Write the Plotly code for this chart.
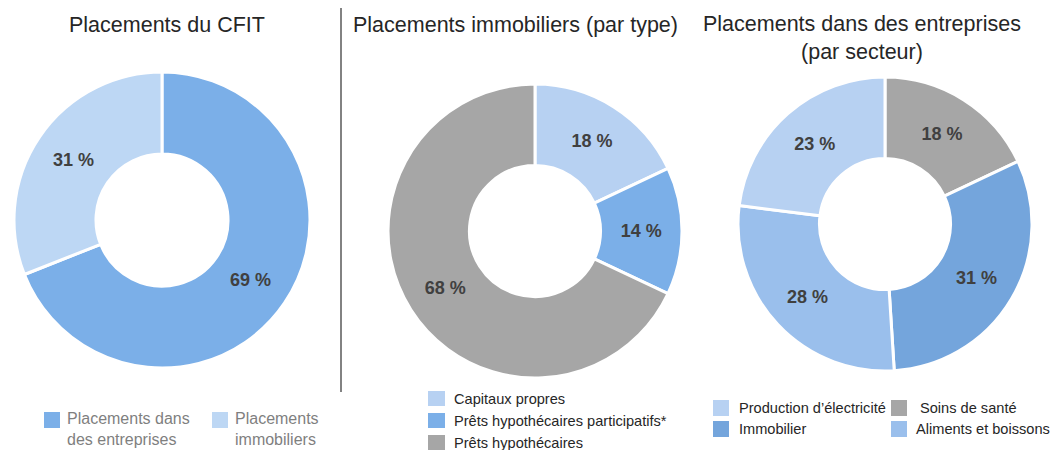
import plotly.graph_objects as go

W, H = 1051, 450

# ---- data ----
titles = ["Placements du CFIT", "Placements immobiliers (par type)",
          "Placements dans des entreprises<br>(par secteur)"]

cfit_labels = ["Placements dans des entreprises", "Placements immobiliers"]
cfit_values = [69, 31]

immo_labels = ["Capitaux propres", "Prêts hypothécaires participatifs*", "Prêts hypothécaires"]
immo_values = [18, 14, 68]

sect_labels = ["Soins de santé", "Immobilier", "Aliments et boissons", "Production d’électricité"]
sect_values = [18, 31, 28, 23]

# ---- styles ----
FONT = "Liberation Sans, Arial, sans-serif"
cfit_colors = ["#7BAFE8", "#BDD7F4"]
immo_colors = ["#B7D1F2", "#7BAFE8", "#A6A6A6"]
sect_colors = ["#A6A6A6", "#74A5DC", "#9ABFEC", "#B7D1F2"]


def dom(cx, cy, r):
    return dict(x=[(cx - r) / W, (cx + r) / W], y=[1 - (cy + r) / H, 1 - (cy - r) / H])


def px(x, y):
    return x / W, 1 - y / H


fig = go.Figure()
pies = [
    (cfit_labels, cfit_values, cfit_colors, (162, 220, 148)),
    (immo_labels, immo_values, immo_colors, (535, 231, 147)),
    (sect_labels, sect_values, sect_colors, (885, 224, 147)),
]
for labels, values, colors, (cx, cy, r) in pies:
    fig.add_trace(go.Pie(
        labels=labels, values=values, sort=False, direction="clockwise", rotation=0,
        hole=0.446, domain=dom(cx, cy, r),
        marker=dict(colors=colors, line=dict(color="white", width=3)),
        text=[f"{v} %" for v in values], textinfo="text", textposition="inside",
        insidetextorientation="horizontal",
        insidetextfont=dict(family=FONT, size=18, color="#404040", weight="bold"),
        showlegend=False, hoverinfo="label+percent",
    ))

annotations = []
shapes = []

# titles
for t, (x, y) in zip(titles, [(167, 25), (515, 25), (862, 38)]):
    ax, ay = px(x, y)
    annotations.append(dict(text=t, x=ax, y=ay, xref="paper", yref="paper",
                            xanchor="center", yanchor="middle", showarrow=False,
                            font=dict(family=FONT, size=21.5, color="#262626")))

# separator line
shapes.append(dict(type="line", xref="paper", yref="paper",
                   x0=341 / W, x1=341 / W, y0=1 - 8 / H, y1=1 - 392 / H,
                   line=dict(color="#595959", width=1.5)))


def legend_item(label, color, sx, sy, tx, font_size, font_color, sw=16, sh=16, multiline=None):
    shapes.append(dict(type="rect", xref="paper", yref="paper",
                       x0=sx / W, x1=(sx + sw) / W, y0=1 - sy / H, y1=1 - (sy + sh) / H,
                       fillcolor=color, line=dict(width=0)))
    ax, ay = px(tx, sy + sh / 2)
    text = multiline if multiline else label
    annotations.append(dict(text=text, x=ax, y=ay if not multiline else 1 - (sy - 4) / H,
                            xref="paper", yref="paper", xanchor="left",
                            yanchor="middle" if not multiline else "top", align="left",
                            showarrow=False,
                            font=dict(family=FONT, size=font_size, color=font_color)))


# legend 1 (two columns, wrapped text)
wrap1 = {"Placements dans des entreprises": "Placements dans<br>des entreprises",
         "Placements immobiliers": "Placements<br>immobiliers"}
for lab, col, sx in zip(cfit_labels, cfit_colors, [44, 212]):
    legend_item(lab, col, sx, 412, sx + 21, 16, "#7F7F7F", multiline=wrap1[lab])

# legend 2 (vertical)
for i, (lab, col) in enumerate(zip(immo_labels, immo_colors)):
    legend_item(lab, col, 428, 391 + i * 22, 452, 14.6, "#262626", sw=17, sh=15)

# legend 3 (two columns): order shown in reference
leg3_pos = {"Production d’électricité": (713, 400, 737),
            "Soins de santé": (891, 400, 918),
            "Immobilier": (713, 421, 737),
            "Aliments et boissons": (891, 421, 914)}
for lab, col in zip(sect_labels, sect_colors):
    sx, sy, tx = leg3_pos[lab]
    legend_item(lab, col, sx, sy, tx, 14.6, "#262626")

fig.update_layout(
    width=W, height=H, margin=dict(l=0, r=0, t=0, b=0),
    paper_bgcolor="white", plot_bgcolor="white",
    annotations=annotations, shapes=shapes,
    font=dict(family=FONT),
)

fig.write_html("out.html", config={"displayModeBar": False},
               post_script="document.body.style.margin='0';")
